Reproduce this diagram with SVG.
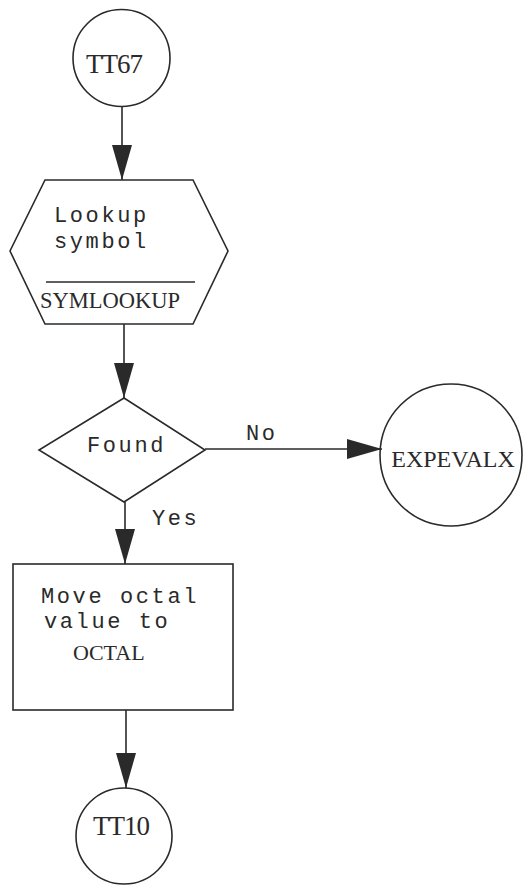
<svg xmlns="http://www.w3.org/2000/svg" width="524" height="885" viewBox="0 0 524 885">
<defs>
<style>
.s{fill:none;stroke:#2a2a2a;stroke-width:1.6}
.m{font-family:"Liberation Mono",monospace;font-size:22px;letter-spacing:2.6px;fill:#2a2a2a}
.r{font-family:"Liberation Serif",serif;fill:#2a2a2a}
</style>
<marker id="ah" markerUnits="userSpaceOnUse" markerWidth="36" markerHeight="22" refX="35" refY="10" orient="auto">
<path d="M0,0 L35,10 L0,20 z" fill="#2a2a2a"/>
</marker>
</defs>
<rect width="524" height="885" fill="#ffffff"/>
<g id="connectors" class="s">
<line x1="122" y1="107" x2="122" y2="180" marker-end="url(#ah)"/>
<line x1="124" y1="324" x2="124" y2="398" marker-end="url(#ah)"/>
<line x1="205" y1="449" x2="382" y2="449" marker-end="url(#ah)"/>
<line x1="125" y1="502" x2="125" y2="564" marker-end="url(#ah)"/>
<line x1="126" y1="710" x2="126" y2="788" marker-end="url(#ah)"/>
</g>
<g id="tt67">
<circle class="s" cx="121.5" cy="58" r="48.5"/>
<text class="r" x="114" y="73" font-size="27" text-anchor="middle" letter-spacing="-1">TT67</text>
</g>
<g id="lookup">
<polygon class="s" points="45,180 193,180 228,251 193,324 45,324 10,251"/>
<text class="m" x="54" y="222">Lookup</text>
<text class="m" x="54" y="248">symbol</text>
<line class="s" x1="46" y1="282" x2="195" y2="282"/>
<text class="r" x="40" y="308" font-size="22.5">SYMLOOKUP</text>
</g>
<g id="found">
<polygon class="s" points="124,398 205,450 124,502 39,450"/>
<text class="m" x="87" y="452">Found</text>
</g>
<text class="m" x="246" y="440">No</text>
<text class="m" x="152" y="525">Yes</text>
<g id="expevalx">
<circle class="s" cx="451" cy="455" r="71"/>
<text class="r" x="453" y="467" font-size="24" text-anchor="middle">EXPEVALX</text>
</g>
<g id="move">
<rect class="s" x="13" y="564" width="220" height="146"/>
<text class="m" x="41" y="603">Move octal</text>
<text class="m" x="44" y="628">value to</text>
<text class="r" x="73" y="660" font-size="22">OCTAL</text>
</g>
<g id="tt10">
<circle class="s" cx="124" cy="836" r="48"/>
<text class="r" x="121" y="835" font-size="27" text-anchor="middle" letter-spacing="-1">TT10</text>
</g>
</svg>
